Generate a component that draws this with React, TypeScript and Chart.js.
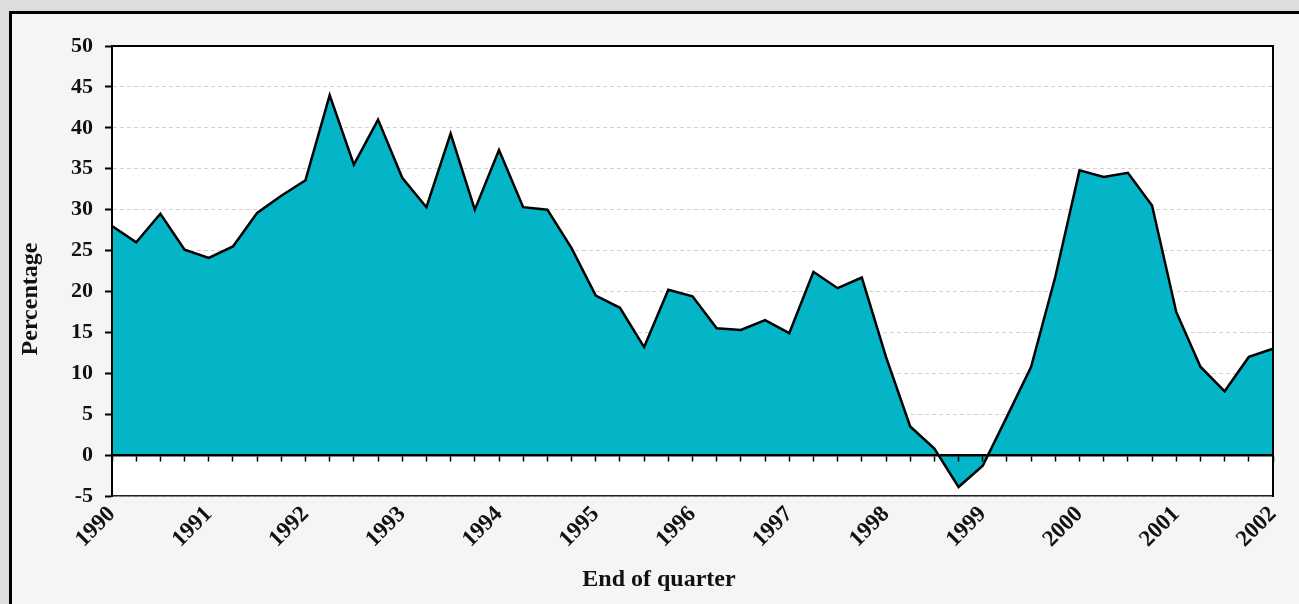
import React, { useEffect, useRef } from "react";
import { Chart, registerables } from "chart.js";

Chart.register(...registerables);

const quarters: string[] = [
  "1990 Q1", "1990 Q2", "1990 Q3", "1990 Q4",
  "1991 Q1", "1991 Q2", "1991 Q3", "1991 Q4",
  "1992 Q1", "1992 Q2", "1992 Q3", "1992 Q4",
  "1993 Q1", "1993 Q2", "1993 Q3", "1993 Q4",
  "1994 Q1", "1994 Q2", "1994 Q3", "1994 Q4",
  "1995 Q1", "1995 Q2", "1995 Q3", "1995 Q4",
  "1996 Q1", "1996 Q2", "1996 Q3", "1996 Q4",
  "1997 Q1", "1997 Q2", "1997 Q3", "1997 Q4",
  "1998 Q1", "1998 Q2", "1998 Q3", "1998 Q4",
  "1999 Q1", "1999 Q2", "1999 Q3", "1999 Q4",
  "2000 Q1", "2000 Q2", "2000 Q3", "2000 Q4",
  "2001 Q1", "2001 Q2", "2001 Q3", "2001 Q4",
  "2002 Q1",
];

const percentages: number[] = [
  28.0, 26.0, 29.5, 25.1,
  24.1, 25.5, 29.6, 31.7,
  33.6, 44.0, 35.5, 41.0,
  33.9, 30.3, 39.3, 30.0,
  37.3, 30.3, 30.0, 25.3,
  19.5, 18.0, 13.2, 20.2,
  19.4, 15.5, 15.3, 16.5,
  14.9, 22.4, 20.4, 21.7,
  12.0, 3.5, 0.8, -3.9,
  -1.3, 4.7, 10.8, 21.8,
  34.8, 34.0, 34.5, 30.5,
  17.5, 10.8, 7.8, 12.0,
  13.0,
];

const yearTicks: string[] = [
  "1990", "1991", "1992", "1993", "1994", "1995", "1996",
  "1997", "1998", "1999", "2000", "2001", "2002",
];

const Y_MIN = -5;
const Y_MAX = 50;
const Y_STEP = 5;

const FONT = "'Liberation Serif', 'Times New Roman', serif";

const chartAreaBg = {
  id: "chartAreaBg",
  beforeDraw(chart: any) {
    const { ctx, chartArea } = chart;
    ctx.save();
    ctx.fillStyle = "#ffffff";
    ctx.fillRect(chartArea.left, chartArea.top, chartArea.right - chartArea.left, chartArea.bottom - chartArea.top);
    ctx.restore();
  },
};

export default function App() {
  const ref = useRef<HTMLCanvasElement | null>(null);

  useEffect(() => {
    if (!ref.current) return;
    const chart = new Chart(ref.current, {
      type: "line",
      data: {
        labels: quarters,
        datasets: [
          {
            data: percentages,
            borderColor: "#000000",
            borderWidth: 2.5,
            backgroundColor: "#04b4c7",
            fill: "origin",
            pointRadius: 0,
            tension: 0,
          },
        ],
      },
      plugins: [chartAreaBg],
      options: {
        responsive: false,
        animation: false,
        layout: { padding: { left: 19, right: 0, top: 0, bottom: 6 } },
        plugins: {
          legend: { display: false },
          tooltip: { enabled: false },
          subtitle: {
            display: true,
            text: "Percentage",
            position: "left",
            color: "#111",
            font: { family: FONT, size: 24, weight: "bold", lineHeight: 1 },
            padding: { top: 0, bottom: 0 },
          },
          title: {
            display: true,
            text: "End of quarter",
            position: "bottom",
            color: "#111",
            font: { family: FONT, size: 24, weight: "bold", lineHeight: 1.2 },
            padding: { top: 0, bottom: 4 },
          },
        },
        scales: {
          x: {
            type: "category",
            position: "bottom",
            offset: false,
            grid: { display: false, drawTicks: false },
            border: { display: true, color: "#222", width: 1.5 },
            ticks: {
              autoSkip: false,
              minRotation: 45,
              maxRotation: 45,
              padding: 5,
              color: "#111",
              font: { family: FONT, size: 23, weight: "bold" },
              callback: (_v: any, i: number) => (i % 4 === 0 ? yearTicks[i / 4] : ""),
            },
            afterFit: (s: any) => {
              s.height = 69.2;
            },
          },
          xTop: {
            type: "category",
            position: "top",
            offset: false,
            grid: { display: false, drawTicks: false },
            border: { display: true, color: "#000", width: 2, z: 1 },
            ticks: { display: false },
            afterFit: (s: any) => {
              s.height = 46;
            },
          },
          xZero: {
            type: "category",
            position: { y: 0 },
            offset: false,
            grid: {
              display: true,
              drawOnChartArea: false,
              drawTicks: true,
              tickLength: 5,
              tickColor: "#000",
              tickWidth: 1.5,
              z: 1,
            },
            border: { display: true, color: "#000", width: 2.5, z: 1 },
            ticks: { display: false, autoSkip: false },
          },
          y: {
            type: "linear",
            position: "left",
            min: Y_MIN,
            max: Y_MAX,
            grid: {
              display: true,
              drawOnChartArea: true,
              drawTicks: true,
              color: "#d2d2d2",
              lineWidth: 1,
              tickLength: 7,
              tickColor: "#000",
              tickWidth: 2,
              tickBorderDash: [],
            },
            border: { display: true, color: "#000", width: 2, dash: [4, 3], z: 1 },
            ticks: {
              stepSize: Y_STEP,
              padding: 12,
              color: "#111",
              font: { family: FONT, size: 22, weight: "bold" },
            },
            afterFit: (s: any) => {
              s.width = 69;
            },
          },
          yRight: {
            type: "linear",
            position: "right",
            min: Y_MIN,
            max: Y_MAX,
            grid: { display: false, drawTicks: false },
            border: { display: true, color: "#000", width: 2, z: 1 },
            ticks: { display: false },
            afterFit: (s: any) => {
              s.width = 26;
            },
          },
        },
      } as any,
    });
    return () => chart.destroy();
  }, []);

  return (
    <div
      style={{
        position: "absolute",
        left: 0,
        top: 0,
        width: 1299,
        height: 604,
        overflow: "hidden",
        background: "#dcdedd",
      }}
    >
      <div
        style={{
          position: "absolute",
          left: 9,
          top: 11,
          width: 1400,
          height: 700,
          border: "3px solid #000",
          background: "#f5f5f3",
        }}
      />
      <canvas
        ref={ref}
        width={1299}
        height={604}
        style={{ position: "absolute", left: 0, top: 0, width: 1299, height: 604 }}
      />
    </div>
  );
}
